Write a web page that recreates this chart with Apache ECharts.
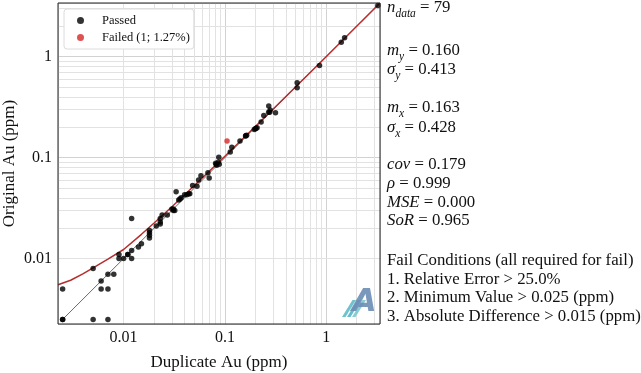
<!DOCTYPE html>
<html><head><meta charset="utf-8">
<script src="https://cdn.jsdelivr.net/npm/echarts@6/dist/echarts.min.js"></script>
<style>html,body{margin:0;padding:0;background:#fff}#c{width:641px;height:373px}</style>
</head><body><div id="c"></div>
<script>
// ---- data ----
const passedX = [0.0025,0.0025,0.005,0.007,0.005,0.006,0.006,0.007,0.007,0.008,
  0.009,0.009,0.010,0.011,0.012,0.012,0.012,0.014,0.015,0.018,
  0.018,0.018,0.021,0.023,0.023,0.024,0.027,0.030,0.031,0.032,
  0.033,0.035,0.037,0.040,0.044,0.048,0.053,0.055,0.058,0.068,
  0.070,0.081,0.083,0.086,0.088,0.087,0.113,0.117,0.141,0.160,
  0.164,0.195,0.203,0.208,0.228,0.242,0.271,0.277,0.280,0.316,
  0.517,0.517,0.859,1.41,1.52,3.24,
  0.018,0.023,0.031,0.036,0.042,0.045,0.082,0.161,0.200,0.270,0.011,0.0025];
const passedY = [0.0025,0.005,0.0025,0.0025,0.008,0.006,0.005,0.005,0.007,0.007,
  0.011,0.010,0.010,0.011,0.012,0.010,0.025,0.013,0.014,0.019,
  0.017,0.016,0.021,0.023,0.025,0.027,0.027,0.031,0.030,0.030,
  0.046,0.038,0.040,0.043,0.044,0.053,0.052,0.060,0.066,0.071,
  0.063,0.088,0.084,0.090,0.086,0.101,0.114,0.127,0.146,0.164,
  0.167,0.190,0.195,0.198,0.225,0.262,0.324,0.282,0.296,0.279,
  0.553,0.493,0.819,1.39,1.54,3.22,
  0.018,0.022,0.031,0.039,0.043,0.044,0.086,0.165,0.193,0.281,0.011,0.0025];
const failedX = [0.105];
const failedY = [0.146];
const fitX = [0.00225,0.003,0.004,0.005,0.007,0.01,0.015,0.02,0.03,0.05,0.1,0.3,1,3.4];
const fitY = [0.0055,0.0061,0.0071,0.0081,0.0099,0.0123,0.0174,0.0225,0.0326,0.053,0.103,0.303,1.0,3.4];
const oneToOne = [0.0025, 3.24];
const axisMin = 0.00225, axisMax = 3.4;
const minorGrid = [0.003,0.004,0.005,0.006,0.007,0.008,0.009,
  0.02,0.03,0.04,0.05,0.06,0.07,0.08,0.09,
  0.2,0.3,0.4,0.5,0.6,0.7,0.8,0.9,2,3];
const legendNames = ['Passed', 'Failed (1; 1.27%)'];
const statLines = [
  '{mi|n}{sub|data}{n| = 79}',
  '{mi|m}{sub|y}{n| = 0.160}',
  '{mi|σ}{sub|y}{n| = 0.413}',
  '{mi|m}{sub|x}{n| = 0.163}',
  '{mi|σ}{sub|x}{n| = 0.428}',
  '{mi|cov}{n| = 0.179}',
  '{mi|ρ}{n| = 0.999}',
  '{mi|MSE}{n| = 0.000}',
  '{mi|SoR}{n| = 0.965}',
  '{n|Fail Conditions (all required for fail)}',
  '{n|1. Relative Error > 25.0%}',
  '{n|2. Minimum Value > 0.025 (ppm)}',
  '{n|3. Absolute Difference > 0.015 (ppm)}'
];
const statY = [6,49,68,106,126,163,182,201,219,259,278,296,315];

// ---- chart ----
const FONT = 'Liberation Serif';
const chart = echarts.init(document.getElementById('c'), null, {renderer: 'canvas'});
const zip = (a, b) => a.map((v, i) => [v, b[i]]);
const rich = {
  n: {fontFamily: FONT, fontSize: 16.8, color: '#111', verticalAlign: 'top', lineHeight: 19},
  mi: {fontFamily: FONT, fontSize: 16.8, fontStyle: 'italic', color: '#111', verticalAlign: 'top', lineHeight: 19},
  sub: {fontFamily: FONT, fontSize: 11.5, fontStyle: 'italic', color: '#111', verticalAlign: 'top', lineHeight: 12, padding: [9, 0, 0, 0]}
};
const graphics = statLines.map((t, i) => ({
  type: 'text', left: 387, top: statY[i] - 7, silent: true,
  style: {text: t, rich: rich, fontFamily: FONT, fontSize: 16.8, fill: '#111'}
}));
// watermark logo
const stripeColors = ['#5fbcc6', '#58b4c4', '#79c8d0'];
[0, 1, 2].forEach(k => {
  const dx = k * 5;
  graphics.push({type: 'polygon', silent: true, z: 20,
    shape: {points: [[342 + dx, 317], [345.5 + dx, 317], [356 + dx, 300], [352.5 + dx, 300]]},
    style: {fill: stripeColors[k], opacity: 0.9}});
});
graphics.push({type: 'text', left: 352, top: 287, silent: true, z: 20,
  style: {text: 'A', fontFamily: 'DejaVu Sans', fontWeight: 'bold', fontStyle: 'italic', fontSize: 32, fill: '#6b8db5', opacity: 0.9}});

const axisCommon = {
  type: 'log', logBase: 10, min: axisMin, max: axisMax,
  nameLocation: 'middle', nameMoveOverlap: false,
  nameTextStyle: {fontFamily: FONT, fontSize: 17, color: '#111'},
  axisLine: {show: false}, axisTick: {show: false},
  axisLabel: {fontFamily: FONT, fontSize: 16, color: '#111', showMinLabel: false, showMaxLabel: false,
    formatter: v => String(+(+v).toPrecision(3))},
  splitLine: {show: true, lineStyle: {color: '#d2d2d2', width: 1}},
  minorTick: {show: false}, minorSplitLine: {show: false}
};
const option = {
  animation: false,
  backgroundColor: '#fff',
  grid: {left: 58, top: 3, width: 322, height: 321, show: true, borderColor: '#222', borderWidth: 1,
    backgroundColor: 'transparent', z: 10, containLabel: false, outerBoundsMode: 'none'},
  xAxis: Object.assign({}, axisCommon, {name: 'Duplicate Au (ppm)', nameGap: 30, axisLabel: Object.assign({}, axisCommon.axisLabel, {margin: 6})}),
  yAxis: Object.assign({}, axisCommon, {name: 'Original Au (ppm)', nameGap: 40, axisLabel: Object.assign({}, axisCommon.axisLabel, {margin: 6})}),
  legend: {
    left: 64, top: 9, orient: 'vertical', padding: [5, 4, 5, 13], itemGap: 4,
    itemWidth: 7, itemHeight: 7, icon: 'circle',
    backgroundColor: '#fff', borderColor: '#dcdcdc', borderWidth: 1, borderRadius: 3,
    textStyle: {fontFamily: FONT, fontSize: 12.5, color: '#111', padding: [0, 0, 0, 13]},
    data: legendNames, selectedMode: false, z: 15
  },
  series: [
    {type: 'line', name: 'grid', data: [], silent: true, z: 1,
      markLine: {silent: true, symbol: 'none', label: {show: false}, animation: false, z: 1,
        lineStyle: {color: '#e2e2e2', width: 1, type: 'solid'},
        data: minorGrid.map(v => ({xAxis: v})).concat(minorGrid.map(v => ({yAxis: v})))}},
    {type: 'line', name: '1:1', data: [[oneToOne[0], oneToOne[0]], [oneToOne[1], oneToOne[1]]],
      showSymbol: false, lineStyle: {color: '#444', width: 0.8}, z: 2, silent: true},
    {type: 'line', name: 'fit', data: zip(fitX, fitY), showSymbol: false, smooth: false,
      lineStyle: {color: '#b52d2d', width: 1.5}, z: 3, silent: true},
    {type: 'scatter', name: legendNames[0], data: zip(passedX, passedY), symbolSize: 5.5,
      itemStyle: {color: '#000'}, z: 6},
    {type: 'scatter', name: legendNames[1], data: zip(failedX, failedY), symbolSize: 5.5,
      itemStyle: {color: '#d62728'}, z: 7}
  ],
  graphic: graphics
};
chart.setOption(option);
</script></body></html>
